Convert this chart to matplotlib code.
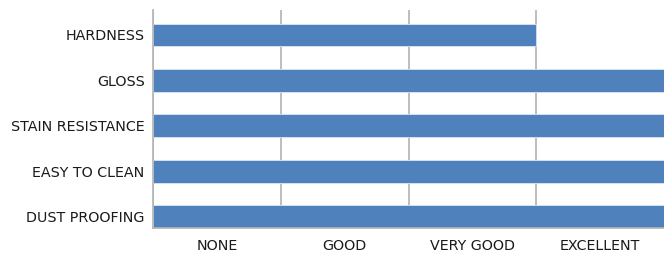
import matplotlib.pyplot as plt

# properties, top to bottom as shown
properties = ["HARDNESS", "GLOSS", "STAIN RESISTANCE", "EASY TO CLEAN", "DUST PROOFING"]
ratings = [3, 4, 4, 4, 4]
levels = ["NONE", "GOOD", "VERY GOOD", "EXCELLENT"]

fig = plt.figure(figsize=(6.64, 2.56), dpi=100)
ax = fig.add_axes([153 / 664, 28 / 256, 1 - 153 / 664, 218 / 256])

ypos = list(range(len(properties)))[::-1]
ax.barh(ypos, ratings, height=0.5, color="#4f81bd", edgecolor="#dce6f2",
        linewidth=0.6, zorder=2)

ax.set_xlim(0, 4)
ax.set_ylim(-0.25, 4.55)

ax.set_yticks(ypos)
ax.set_yticklabels(properties, fontsize=10.3, color="#1a1a1a")

ax.set_xticks([0, 1, 2, 3])
ax.set_xticklabels([])
ax.set_xticks([0.5, 1.5, 2.5, 3.5], minor=True)
ax.set_xticklabels(levels, minor=True, fontsize=10.3, color="#1a1a1a")
ax.tick_params(axis="both", which="both", length=0)
ax.tick_params(axis="x", which="minor", pad=8)
ax.tick_params(axis="y", pad=6)

ax.grid(axis="x", which="major", color="#b3b3b3", linewidth=1.2, zorder=1)
for side in ["top", "right"]:
    ax.spines[side].set_visible(False)
for side in ["left", "bottom"]:
    ax.spines[side].set_color("#b3b3b3")
    ax.spines[side].set_linewidth(1.2)

plt.savefig("out.png", dpi=100)
